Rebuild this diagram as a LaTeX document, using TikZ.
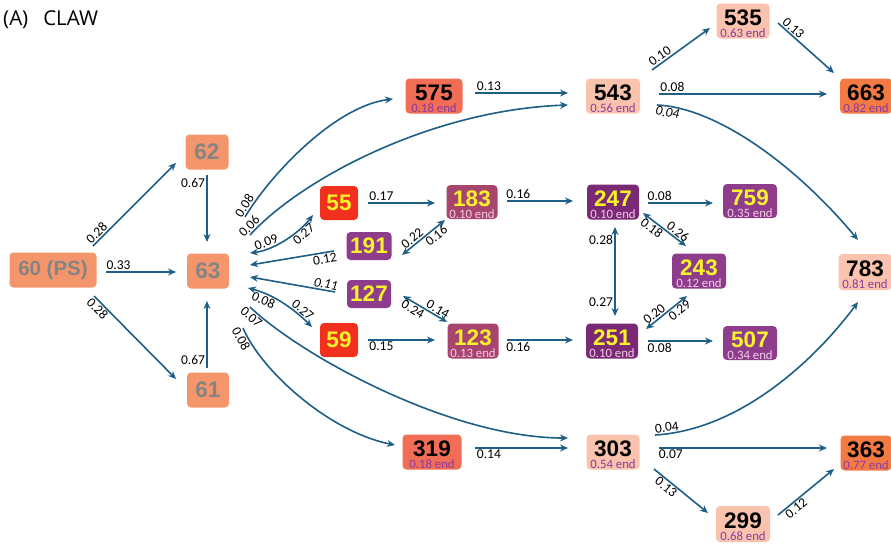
\documentclass[tikz,border=0pt]{standalone}
\usepackage{fontspec}
\setmainfont{Carlito}
\newfontfamily\numfont{Liberation Sans}
\newfontfamily\titlefont{Open Sans}
\usetikzlibrary{arrows.meta}
\definecolor{cArrow}{HTML}{1E5F87}
\definecolor{cSalmon}{HTML}{F5956C}
\definecolor{cGrey}{HTML}{848484}
\definecolor{cTomato}{HTML}{F26D55}
\definecolor{cPeach}{HTML}{F9C3AE}
\definecolor{cOrange}{HTML}{F47A44}
\definecolor{cRed}{HTML}{F2301E}
\definecolor{cYellow}{HTML}{FAF22A}
\definecolor{cMag}{HTML}{A8456F}
\definecolor{cPurp}{HTML}{8E3C8C}
\definecolor{cDPurp}{HTML}{7A2A74}
\definecolor{cEndP}{HTML}{8B3A9E}
\definecolor{cEndL}{HTML}{F2CDE6}
\tikzset{
  bx/.style={rounded corners=4pt, inner sep=0pt, draw=none},
  numt/.style={font=\numfont\bfseries\fontsize{22.5}{22.5}\selectfont, inner sep=0pt},
  endt/.style={font=\fontsize{12.8}{12.8}\selectfont, inner sep=0pt},
  lbl/.style={font=\fontsize{13.5}{13.5}\selectfont, inner sep=1.2pt, text=black},
  ilbl/.style={lbl, font=\itshape\fontsize{13.5}{13.5}\selectfont},
  arr/.style={draw=cArrow, line width=1.6pt, -{Stealth[length=8pt,width=7pt]}},
  barr/.style={draw=cArrow, line width=1.6pt, {Stealth[length=8pt,width=7pt]}-{Stealth[length=8pt,width=7pt]}},
  clsAbox/.style={fill=cSalmon}, clsAnum/.style={text=cGrey}, clsAend/.style={text=cEndP},
  clsBbox/.style={fill=cTomato}, clsBnum/.style={text=black}, clsBend/.style={text=cEndP},
  clsCbox/.style={fill=cPeach}, clsCnum/.style={text=black}, clsCend/.style={text=cEndP},
  clsDbox/.style={fill=cOrange}, clsDnum/.style={text=black}, clsDend/.style={text=cEndP},
  clsEbox/.style={fill=cRed}, clsEnum/.style={text=cYellow}, clsEend/.style={text=cEndL},
  clsFbox/.style={fill=cMag}, clsFnum/.style={text=cYellow}, clsFend/.style={text=cEndL},
  clsGbox/.style={fill=cPurp}, clsGnum/.style={text=cYellow}, clsGend/.style={text=cEndL},
  clsHbox/.style={fill=cDPurp}, clsHnum/.style={text=cYellow}, clsHend/.style={text=cEndL},
}
% two-line box: name, x, y, w, h, class, number, end text
\newcommand\tbx[8]{%
  \node[bx, #6box, minimum width=#4, minimum height=#5] (#1) at (#2,#3) {};
  \node[numt, #6num] (#1-n) at (#2,#3-3.5) {#7};
  \node[endt, #6end] (#1-e) at (#2,#3+12) {#8};
}
% one-line box: name, x, y, w, h, class, number
\newcommand\tbs[7]{%
  \node[bx, #6box, minimum width=#4, minimum height=#5] (#1) at (#2,#3) {};
  \node[numt, #6num] (#1-n) at (#2,#3) {#7};
}
\begin{document}
\begin{tikzpicture}[x=1pt,y=-1pt]
\useasboundingbox[fill=white] (0,0) rectangle (891,546);
\node[font=\titlefont\fontsize{20.5}{20.5}\selectfont, anchor=base west, inner sep=0pt] (title) at (3,25) {(A)\hspace{15pt}CLAW};

% boxes
\node[bx, clsAbox, minimum width=87, minimum height=35] (n60) at (53,270) {};
\node[numt, clsAnum, font=\numfont\bfseries\fontsize{20.5}{20.5}\selectfont] (n60-n) at (53,270) {60 (PS)};
\tbs{n62}{207}{152}{43}{35}{clsA}{62}
\tbs{n63}{208}{271}{42}{35}{clsA}{63}
\tbs{n61}{208}{390}{42}{35}{clsA}{61}
\tbx{n575}{434}{96}{57}{35}{clsB}{575}{0.18 end}
\tbx{n543}{613}{96}{54}{35}{clsC}{543}{0.56 end}
\tbx{n535}{743}{21}{53}{35}{clsC}{535}{0.63 end}
\tbx{n663}{866}{96}{52}{35}{clsD}{663}{0.82 end}
\tbs{n55}{339}{203}{38}{34}{clsE}{55}
\tbx{n183}{472}{202}{51}{34}{clsF}{183}{0.10 end}
\tbx{n247}{613}{202}{52}{35}{clsH}{247}{0.10 end}
\tbx{n759}{750}{201}{54}{34}{clsG}{759}{0.35 end}
\tbs{n191}{369}{246}{45}{28}{clsG}{191}
\tbx{n243}{699}{271}{54}{35}{clsG}{243}{0.12 end}
\tbx{n783}{865}{272}{53}{36}{clsC}{783}{0.81 end}
\tbs{n127}{369}{294}{44}{28}{clsG}{127}
\tbs{n59}{339}{340}{38}{34}{clsE}{59}
\tbx{n123}{473}{341}{51}{35}{clsF}{123}{0.13 end}
\tbx{n251}{612}{341}{52}{35}{clsH}{251}{0.10 end}
\tbx{n507}{750}{343}{54}{34}{clsG}{507}{0.34 end}
\tbx{n319}{432}{452}{59}{35}{clsB}{319}{0.18 end}
\tbx{n303}{613}{452}{53}{35}{clsC}{303}{0.54 end}
\tbx{n363}{866}{453}{51}{35}{clsD}{363}{0.77 end}
\tbx{n299}{743}{524}{54}{36}{clsC}{299}{0.68 end}

% connectors
\draw[arr] ([shift={(40,-24)}]n60.center) -- ([shift={(-31,11)}]n62.center) node[lbl,sloped,above,pos=0.1]{0.28};
\draw[arr] ([shift={(53,2)}]n60.center) -- ([shift={(-32,1)}]n63.center) node[lbl,above,pos=0.18]{0.33};
\draw[arr] ([shift={(41,26)}]n60.center) -- ([shift={(-32,-11)}]n61.center) node[lbl,sloped,below,pos=0.1]{0.28};
\draw[arr] ([shift={(0,23)}]n62.center) -- ([shift={(-1,-29)}]n63.center) node[lbl,left,pos=0.12]{0.67};
\draw[arr] ([shift={(-1,-22)}]n61.center) -- ([shift={(-1,30)}]n63.center) node[lbl,left,pos=0.12]{0.67};

\draw[arr] ([shift={(37,-54)}]n63.center) .. controls (270,175) and (335,106) .. ([shift={(-41,3)}]n575.center) node[lbl,sloped,above,pos=0.06]{0.08};
\draw[arr] ([shift={(42,-36)}]n63.center) .. controls (300,180) and (430,110) .. ([shift={(-45,9)}]n543.center) node[lbl,sloped,above,pos=0.025]{0.06};
\draw[barr] ([shift={(42,-18)}]n63.center) .. controls (275,250) and (300,232) .. ([shift={(-26,12)}]n55.center) node[lbl,sloped,above,pos=0.25]{0.09} node[lbl,sloped,below,pos=0.72]{0.27};
\draw[arr] ([shift={(-35,5)}]n191.center) -- ([shift={(42,-6)}]n63.center) node[lbl,sloped,below,pos=0.12]{0.12};
\draw[arr] ([shift={(-34,-2)}]n127.center) -- ([shift={(42,6)}]n63.center) node[ilbl,sloped,above,pos=0.12]{0.11};
\draw[barr] ([shift={(40,17)}]n63.center) .. controls (275,295) and (295,310) .. ([shift={(-27,-13)}]n59.center) node[lbl,sloped,below,pos=0.24]{0.08} node[lbl,sloped,above,pos=0.75]{0.27};
\draw[arr] ([shift={(42,36)}]n63.center) .. controls (300,355) and (450,438) .. ([shift={(-45,-14)}]n303.center) node[lbl,sloped,below,pos=0.035]{0.07};
\draw[arr] ([shift={(35,57)}]n63.center) .. controls (262,372) and (330,432) .. ([shift={(-37,-7)}]n319.center) node[lbl,sloped,below,pos=0.06]{0.08};

\draw[arr] ([shift={(29,0)}]n55.center) -- ([shift={(-37,1)}]n183.center) node[lbl,above,pos=0.2]{0.17};
\draw[barr] ([shift={(33,9)}]n191.center) -- ([shift={(-27,18)}]n183.center) node[lbl,sloped,above,pos=0.33]{0.22} node[lbl,sloped,below,pos=0.7]{0.16};
\draw[barr] ([shift={(34,2)}]n127.center) -- ([shift={(-26,-19)}]n123.center) node[lbl,sloped,above,pos=0.72]{0.14} node[lbl,sloped,below,pos=0.3]{0.24};
\draw[arr] ([shift={(29,0)}]n59.center) -- ([shift={(-38,-1)}]n123.center) node[lbl,below,pos=0.2]{0.15};

\draw[arr] ([shift={(41,-3)}]n575.center) -- ([shift={(-45,-3)}]n543.center) node[lbl,above,pos=0.15]{0.13};
\draw[arr] ([shift={(35,-1)}]n183.center) -- ([shift={(-40,-1)}]n247.center) node[lbl,above,pos=0.17]{0.16};
\draw[arr] ([shift={(34,-1)}]n123.center) -- ([shift={(-39,-1)}]n251.center) node[lbl,below,pos=0.17]{0.16};
\draw[arr] ([shift={(43,-4)}]n319.center) -- ([shift={(-45,-4)}]n303.center) node[lbl,below,pos=0.15]{0.14};

\draw[arr] ([shift={(39,-26)}]n543.center) -- ([shift={(-33,7)}]n535.center) node[lbl,sloped,above,pos=0.2]{0.10};
\draw[arr] ([shift={(35,2)}]n535.center) -- ([shift={(-32,-23)}]n663.center) node[lbl,sloped,above,pos=0.2]{0.13};
\draw[arr] ([shift={(46,-2)}]n543.center) -- ([shift={(-39,-2)}]n663.center) node[lbl,above,pos=0.08]{0.08};
\draw[arr] ([shift={(44,9)}]n543.center) .. controls (720,108) and (800,170) .. ([shift={(-7,-32)}]n783.center) node[ilbl,sloped,below,pos=0.06]{0.04};

\draw[arr] ([shift={(35,1)}]n247.center) -- ([shift={(-37,2)}]n759.center) node[lbl,above,pos=0.18]{0.08};
\draw[barr] ([shift={(30,11)}]n247.center) -- ([shift={(-13,-25)}]n243.center) node[lbl,sloped,above,pos=0.72]{0.26} node[lbl,sloped,below,pos=0.3]{0.18};
\draw[barr] ([shift={(2,25)}]n247.center) -- ([shift={(3,-25)}]n251.center) node[lbl,left,pos=0.15]{0.28} node[lbl,left,pos=0.85]{0.27};
\draw[barr] ([shift={(34,-12)}]n251.center) -- ([shift={(-12,25)}]n243.center) node[lbl,sloped,above,pos=0.3]{0.20} node[lbl,sloped,below,pos=0.72]{0.29};
\draw[arr] ([shift={(36,0)}]n251.center) -- ([shift={(-37,-2)}]n507.center) node[lbl,below,pos=0.18]{0.08};

\draw[arr] ([shift={(42,-17)}]n303.center) .. controls (740,430) and (815,360) .. ([shift={(-7,30)}]n783.center) node[lbl,sloped,above,pos=0.05]{0.04};
\draw[arr] ([shift={(46,-4)}]n303.center) -- ([shift={(-39,-5)}]n363.center) node[lbl,below,pos=0.07]{0.07};
\draw[arr] ([shift={(41,17)}]n303.center) -- ([shift={(-35,-11)}]n299.center) node[lbl,sloped,below,pos=0.3]{0.13};
\draw[arr] ([shift={(35,-9)}]n299.center) -- ([shift={(-32,16)}]n363.center) node[lbl,sloped,below,pos=0.25]{0.12};
\end{tikzpicture}
\end{document}
